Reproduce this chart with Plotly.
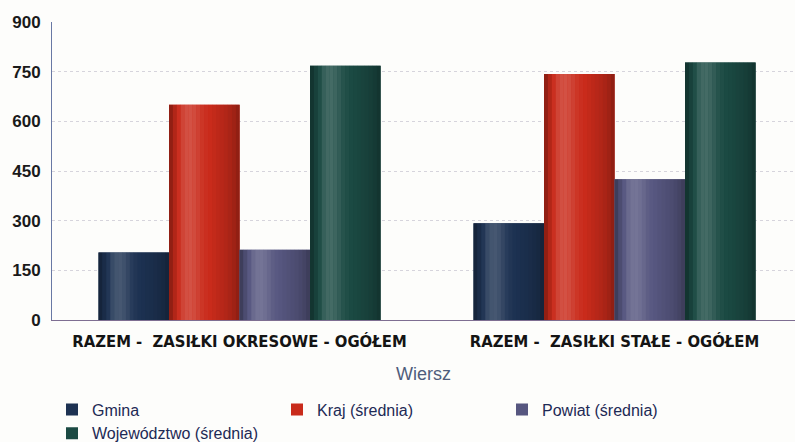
import plotly.graph_objects as go

# Categories and series values
categories = ["RAZEM -\u00a0 ZASIŁKI OKRESOWE - OGÓŁEM", "RAZEM -\u00a0 ZASIŁKI STAŁE - OGÓŁEM"]
series_names = ["Gmina", "Kraj (średnia)", "Powiat (średnia)", "Województwo (średnia)"]
gmina = [204, 292]
kraj = [650, 743]
powiat = [212, 425]
wojewodztwo = [768, 778]
y_ticks = [0, 150, 300, 450, 600, 750, 900]

series_values = [gmina, kraj, powiat, wojewodztwo]
base_colors = ["#1d3252", "#c92b1b", "#56567f", "#1b4a43"]

# Cylinder-like shading across each bar: + lightens, - darkens
shade_profile = [-0.28, -0.12, 0.02, 0.12, 0.17, 0.18, 0.15, 0.10, 0.05, 0.02,
                 0.0, -0.03, -0.06, -0.09, -0.12, -0.16, -0.21, -0.28]


def hex_to_rgb(h):
    h = h.lstrip("#")
    return [int(h[i:i + 2], 16) for i in (0, 2, 4)]


def shade(h, f):
    r = hex_to_rgb(h)
    if f >= 0:
        r = [c + (255 - c) * f for c in r]
    else:
        r = [c * (1 + f) for c in r]
    return "rgb({},{},{})".format(*[int(round(c)) for c in r])


group_width = 0.752
bar_w = group_width / len(series_names)
n_str = len(shade_profile)
str_w = bar_w / n_str

fig = go.Figure()
for i, (name, vals, col) in enumerate(zip(series_names, series_values, base_colors)):
    left = -group_width / 2 + i * bar_w
    fig.add_trace(go.Bar(
        x=categories, y=vals, name=name, marker_color=col,
        marker_line_width=0, offset=left, width=bar_w, showlegend=True,
    ))
    for k, f in enumerate(shade_profile):
        fig.add_trace(go.Bar(
            x=categories, y=vals, marker_color=shade(col, f),
            marker_line_width=0, offset=left + k * str_w, width=str_w * 1.05,
            showlegend=False, hoverinfo="skip",
        ))

plot_left = 52
plot_width = 795 - plot_left
cat_px = 375.0

fig.update_layout(
    width=795, height=442,
    margin=dict(l=plot_left, r=0, t=22, b=122, autoexpand=False),
    paper_bgcolor="#fdfdfb", plot_bgcolor="#fdfdfb",
    barmode="overlay",
    font=dict(family="Liberation Sans, Arial, sans-serif", color="#1a1a1a"),
    legend=dict(
        orientation="h", x=0.0, xanchor="left",
        yref="container", y=0.112, yanchor="top",
        entrywidth=180, entrywidthmode="pixels", traceorder="normal",
        font=dict(size=16, color="#1d2a55"), bgcolor="rgba(0,0,0,0)",
        itemwidth=30, tracegroupgap=0,
    ),
)

fig.update_xaxes(
    type="category", automargin=False,
    range=[-0.5, -0.5 + plot_width / cat_px],
    showline=True, linecolor="#7e6e92", linewidth=1,
    showgrid=False, ticks="", ticklabelstandoff=6,
    tickfont=dict(size=16.5, color="#141414",
                  family="DejaVu Sans Condensed, Roboto, sans-serif", weight="bold"),
    title=dict(text="Wiersz", font=dict(size=18, color="#4f5c7c"), standoff=17),
)
fig.update_yaxes(
    range=[0, 900], tickvals=y_ticks, automargin=False,
    showline=True, linecolor="#6878a4", linewidth=1,
    showgrid=True, gridcolor="#d6d4dc", griddash="dot", gridwidth=1,
    zeroline=False, ticks="", ticklabelstandoff=7,
    tickfont=dict(size=17, color="#1a1a1a", weight="bold"),
)

fig.write_html("out.html")
